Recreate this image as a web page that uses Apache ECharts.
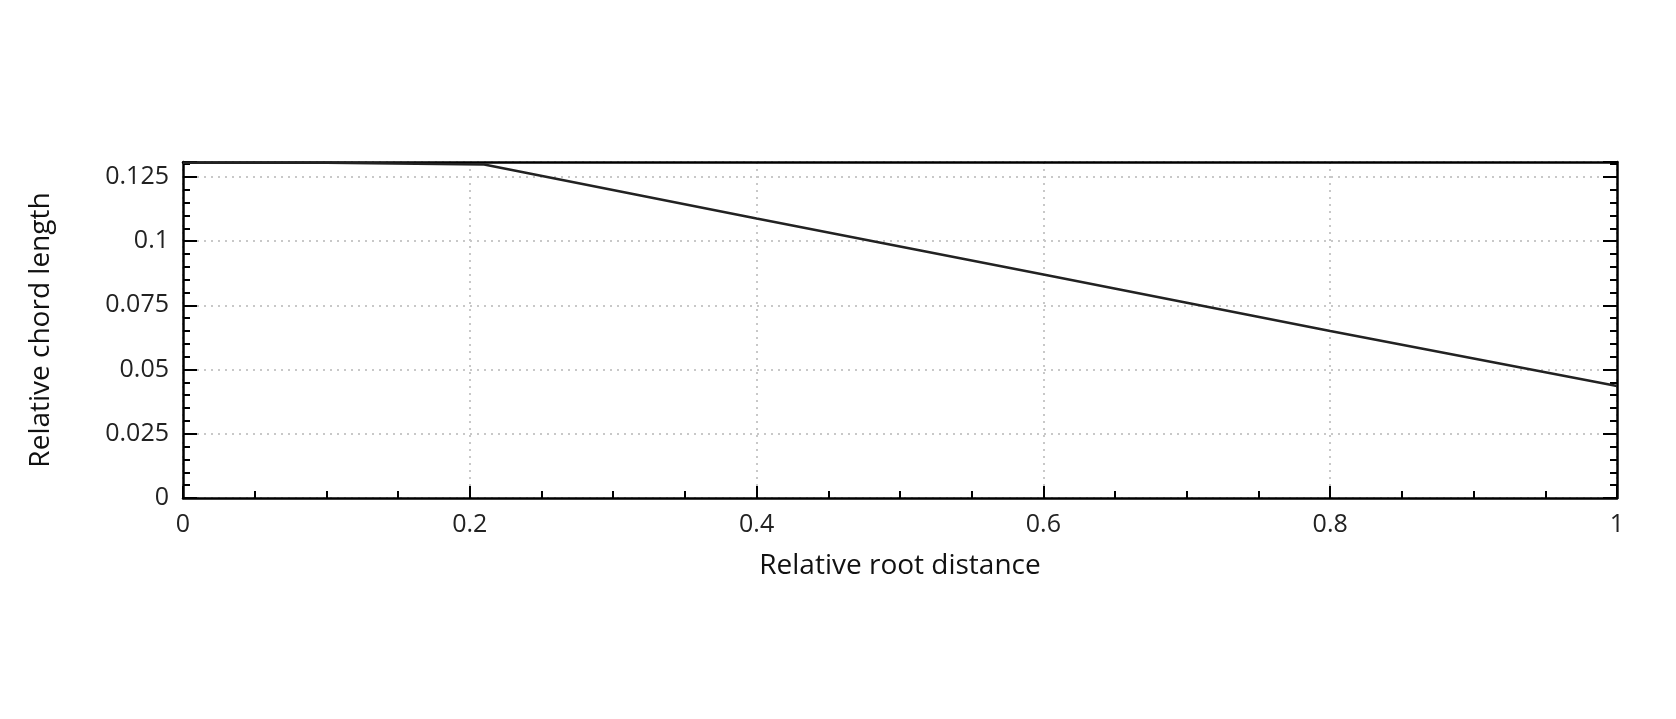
<!DOCTYPE html>
<html><head><meta charset="utf-8">
<script src="https://cdn.jsdelivr.net/npm/echarts@6/dist/echarts.min.js"></script>
<style>html,body{margin:0;padding:0;background:#fff}#c{width:1676px;height:719px}</style>
</head><body><div id="c"></div>
<script>
const rootDistance = [0, 0.1, 0.21, 0.4, 0.6, 0.8, 1];
const chordLength = [0.1305, 0.1305, 0.1298, 0.1088, 0.0870, 0.0650, 0.0436];
const xTicks = ['0', '0.2', '0.4', '0.6', '0.8', '1'];
const yTicks = ['0', '0.025', '0.05', '0.075', '0.1', '0.125'];

const font = 'Open Sans';
const axisLine = {show: true, onZero: false, lineStyle: {color: '#000', width: 2.5}};
const chart = echarts.init(document.getElementById('c'));
chart.setOption({
  animation: false,
  backgroundColor: '#fff',
  grid: {left: 183, right: 59, top: 162, bottom: 221},
  xAxis: [{
    type: 'value', min: 0, max: 1, interval: 0.2,
    name: 'Relative root distance', nameLocation: 'middle', nameGap: 54,
    nameTextStyle: {fontFamily: font, fontSize: 28, color: '#111'},
    axisLine: axisLine,
    axisTick: {show: true, inside: true, length: 12, lineStyle: {color: '#000', width: 2}},
    minorTick: {show: true, splitNumber: 4, length: 7, lineStyle: {color: '#000', width: 2}},
    axisLabel: {fontFamily: font, fontSize: 25, color: '#222', margin: 14,
      formatter: v => xTicks[Math.round(v / 0.2)]},
    splitLine: {show: true, lineStyle: {color: '#c8c8c8', type: [2, 5], width: 2}}
  }, {
    type: 'value', position: 'top', min: 0, max: 1, interval: 0.2,
    axisLine: axisLine, axisTick: {show: false}, axisLabel: {show: false}, splitLine: {show: false}
  }],
  yAxis: [{
    type: 'value', min: 0, max: 0.1308, interval: 0.025,
    name: 'Relative chord length', nameLocation: 'middle', nameGap: 128,
    nameTextStyle: {fontFamily: font, fontSize: 28, color: '#111'},
    axisLine: axisLine,
    axisTick: {show: true, inside: true, length: 14, lineStyle: {color: '#000', width: 2}},
    minorTick: {show: true, splitNumber: 5, length: 7, lineStyle: {color: '#000', width: 2}},
    axisLabel: {fontFamily: font, fontSize: 25, color: '#222', margin: 14, showMaxLabel: false,
      formatter: v => { const i = Math.round(v / 0.025); return (Math.abs(v - i*0.025) < 1e-9) ? yTicks[i] : ''; }},
    splitLine: {show: true, lineStyle: {color: '#c8c8c8', type: [2, 5], width: 2}}
  }, {
    type: 'value', position: 'right', min: 0, max: 0.1308, interval: 0.025,
    axisLine: axisLine,
    axisTick: {show: true, inside: true, length: 14, lineStyle: {color: '#000', width: 2}},
    minorTick: {show: true, splitNumber: 5, length: 7, lineStyle: {color: '#000', width: 2}},
    axisLabel: {show: false}, splitLine: {show: false}
  }],
  series: [{
    type: 'line', showSymbol: false,
    data: rootDistance.map((x, i) => [x, chordLength[i]]),
    lineStyle: {color: '#222', width: 2.5}
  }]
});
</script></body></html>
